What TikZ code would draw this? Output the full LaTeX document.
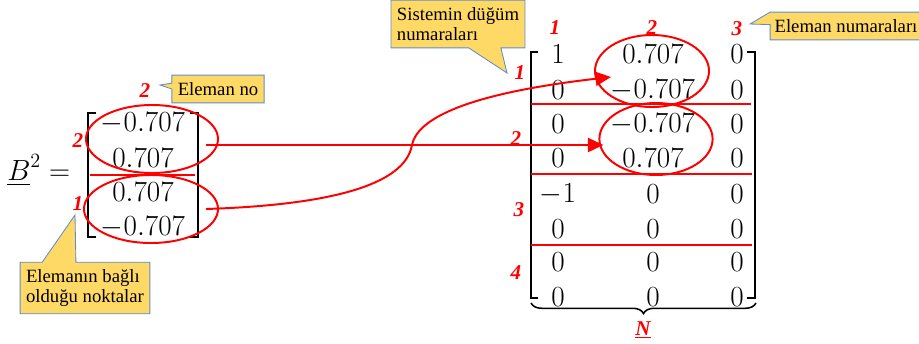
\documentclass[tikz,border=0pt]{standalone}
\usepackage[no-math]{fontspec}
\setmainfont{Liberation Serif}
\usepackage{amsmath}
\usetikzlibrary{
	arrows.meta, shapes.geometric, calc,
	decorations.pathreplacing, backgrounds
}
\definecolor{markred}       {RGB}{255,   0,    0}
\definecolor{notefill}      {RGB}{255, 217,  102}
\definecolor{noteedge}      {RGB}{ 96, 140,  204}

\begin{document}
\begin{tikzpicture}[x=0.025cm,y=-0.025cm,
		entry/.style={inner sep=0pt,font=\fontsize{22.5}{26}\selectfont},
		num/.style={inner sep=0pt,text=markred,font=\fontsize{15}{16}\selectfont\bfseries\itshape},
		note/.style={rectangle,align=left,inner xsep=4pt,inner ysep=5pt,font=\fontsize{13.3}{14.2}\selectfont},
		noteline/.style={fill=notefill,draw=noteedge,line width=0.6pt},
		brk/.style={line width=1.7pt},
		redline/.style={markred,line width=1.4pt},
		ring/.style={ellipse,draw=markred,line width=1.4pt,inner sep=0pt},
		arr/.style={markred,line width=1.4pt,-{Triangle[length=11pt,width=10pt]}}]
				\useasboundingbox (0,0) rectangle (919,343);
				\node[entry,anchor=base west] (lhs) at (7,180) {$\underline{B}^2=$};
				\node[entry] (a1) at (143,123) {$-0.707$};
				\node[entry] (a2) at (143,158) {$0.707$};
				\node[entry] (a3) at (143,192) {$0.707$};
				\node[entry] (a4) at (143,227) {$-0.707$};
				\draw[brk] (96,113) -| (88,237) -- (96,237);
				\draw[brk] (190,113) -| (198,237) -- (190,237);
				\draw[redline] (90,175) -- (195,175);
				\node[ring,minimum width=3.3cm,minimum height=1.7cm] (el1) at (152,139) {};
				\node[ring,minimum width=3.35cm,minimum height=1.7cm] (el2) at (151,209) {};
				\node[num] (lc2) at (145,91) {2};
				\node[num] (lr2) at (78,141) {2};
				\node[num] (lr1) at (78,204) {1};
				\node[entry] (m11) at (558,54) {$1$};  \node[entry] (m12) at (653,54) {$0.707$};  \node[entry] (m13) at (737,54) {$0$};
				\node[entry] (m21) at (558,90) {$0$};  \node[entry] (m22) at (653,90) {$-0.707$}; \node[entry] (m23) at (737,90) {$0$};
				\node[entry] (m31) at (558,124) {$0$}; \node[entry] (m32) at (653,124) {$-0.707$}; \node[entry] (m33) at (737,124) {$0$};
				\node[entry] (m41) at (558,158) {$0$}; \node[entry] (m42) at (653,158) {$0.707$}; \node[entry] (m43) at (737,158) {$0$};
				\node[entry] (m51) at (558,194) {$-1$}; \node[entry] (m52) at (653,194) {$0$}; \node[entry] (m53) at (737,194) {$0$};
				\node[entry] (m61) at (558,229) {$0$}; \node[entry] (m62) at (653,229) {$0$}; \node[entry] (m63) at (737,229) {$0$};
				\node[entry] (m71) at (558,262) {$0$}; \node[entry] (m72) at (653,262) {$0$}; \node[entry] (m73) at (737,262) {$0$};
				\node[entry] (m81) at (558,297) {$0$}; \node[entry] (m82) at (653,297) {$0$}; \node[entry] (m83) at (737,297) {$0$};
				\draw[brk] (538,52) -| (531,298) -- (538,298);
				\draw[brk] (747,52) -| (755,298) -- (747,298);
				\draw[redline] (531,104) -- (751,104);
				\draw[redline] (531,174) -- (752,174);
				\draw[redline] (531,245) -- (752,245);
				\node[ring,minimum width=2.85cm,minimum height=1.8cm] (er1) at (652,71) {};
				\node[ring,minimum width=2.83cm,minimum height=1.8cm] (er2) at (656,139) {};
				\node[num] (rc1) at (555,28) {1};
				\node[num] (rc2) at (652,28) {2};
				\node[num] (rc3) at (737,29) {3};
				\node[num] (rr1) at (520,73) {1};
				\node[num] (rr2) at (516,139) {2};
				\node[num] (rr3) at (519,210) {3};
				\node[num] (rr4) at (516,273) {4};
				\draw[line width=1.1pt,decorate,decoration={brace,mirror,amplitude=7.5pt}] (531,303) -- (756,303);
				\node[inner sep=0pt,anchor=base,text=markred,font=\fontsize{15}{16}\selectfont\bfseries\itshape] (nlab) at (643,335) {\underline{N}};
				\draw[arr] ([shift={(-13,6)}]el1.east) -- ([shift={(5,6)}]er2.west);
				\draw[arr] ([shift={(-13,0)}]el2.east) .. controls (330,205) and (405,185) .. (412,145)
					.. controls (418,115) and (480,92) .. ([shift={(17,6)}]er1.west);
				\node[note] (elno) at (218,89) {Eleman no};
				\node[note] (bagli) at (85,288) {Elemanın bağlı\\olduğu noktalar};
				\node[note] (dugum) at (458,24) {Sistemin düğüm\\numaraları};
				\node[note,inner xsep=3pt] (elnum) at (846,26) {Eleman numaraları};
				\coordinate (elnotip) at (160,85);
				\coordinate (baglitip) at (75,215);
				\coordinate (dugumtip) at (507,73);
				\coordinate (elnumtip) at (750,24);
				\begin{scope}[on background layer]
					\draw[noteline] (elno.north west) -- (elno.north east) -- (elno.south east) -- (elno.south west)
						-- ($(elno.north west)!0.5!(elno.south west)$) -- (elnotip) -- ($(elno.north west)!0.29!(elno.south west)$) -- cycle;
					\draw[noteline] (bagli.north west) -- ($(bagli.north west)!0.17!(bagli.north east)$) -- (baglitip)
						-- ($(bagli.north west)!0.43!(bagli.north east)$) -- (bagli.north east) -- (bagli.south east) -- (bagli.south west) -- cycle;
					\draw[noteline] (dugum.north west) -- (dugum.north east) -- (dugum.south east)
						-- ($(dugum.south west)!0.82!(dugum.south east)$) -- (dugumtip) -- ($(dugum.south west)!0.58!(dugum.south east)$) -- (dugum.south west) -- cycle;
					\draw[noteline] (elnum.north west) -- (elnumtip) -- ($(elnum.north west)!0.45!(elnum.south west)$)
						-- (elnum.south west) -- (elnum.south east) -- (elnum.north east) -- cycle;
				\end{scope}
			\end{tikzpicture}
\end{document}
